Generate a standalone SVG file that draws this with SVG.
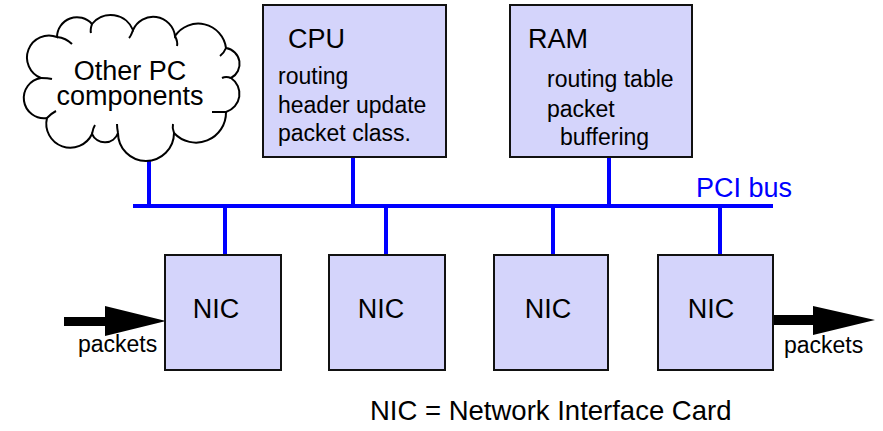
<svg xmlns="http://www.w3.org/2000/svg" width="883" height="431" viewBox="0 0 883 431">
<style>
.box{fill:#d4d4fb;stroke:#111;stroke-width:2}
.bus{stroke:#0000ff;stroke-width:4;fill:none}
.t{font-family:"Liberation Sans",Arial,sans-serif;fill:#000}
.big{font-size:27px}
.sm{font-size:23px}
.cloud{fill:#fff;stroke:#000;stroke-width:2}
.hook{fill:none;stroke:#000;stroke-width:2}
</style>
<rect width="883" height="431" fill="#fff"/>
<g id="connectors">
<line class="bus" x1="133" y1="206" x2="773" y2="206"/>
<line class="bus" x1="149" y1="160" x2="149" y2="208"/>
<line class="bus" x1="353" y1="157" x2="353" y2="206"/>
<line class="bus" x1="609" y1="157" x2="609" y2="206"/>
<line class="bus" x1="225" y1="206" x2="225" y2="255"/>
<line class="bus" x1="386" y1="206" x2="386" y2="255"/>
<line class="bus" x1="553" y1="206" x2="553" y2="255"/>
<line class="bus" x1="720" y1="206" x2="720" y2="255"/>
<polygon points="64,317 105,317 105,306 166,321 105,336 105,326 64,326" fill="#000"/>
<polygon points="773,315 813,315 813,306 875,320 813,335 813,325 773,325" fill="#000"/>
</g>
<g id="pci-label"><text class="t" x="696" y="197" font-size="27" style="fill:#0000ff">PCI bus</text></g>
<g id="cloud">
<path class="cloud" d="M57,37 A20 20 0 0 1 92,24 A24 24 0 0 1 133,30 A22 22 0 0 1 175,36 A28 28 0 0 1 226,48 A16 16 0 0 1 231,78 A19 19 0 0 1 226,112 A30 30 0 0 1 174,133 A28 28 0 0 1 118,133 A14 14 0 0 1 92,134 A24 24 0 0 1 47,118 A20 20 0 0 1 41,78 A22 22 0 0 1 57,37 Z"/>
<path class="hook" d="M57,37 Q66,38 72,44"/>
<path class="hook" d="M92,24 Q90,30 91,33"/>
<path class="hook" d="M133,30 Q131,36 129,38"/>
<path class="hook" d="M175,36 Q178,42 177,46"/>
<path class="hook" d="M226,48 Q224,53 220,56"/>
<path class="hook" d="M231,78 Q226,76 222,78"/>
<path class="hook" d="M226,112 Q222,112 212,112"/>
<path class="hook" d="M174,133 Q172,128 173,124"/>
<path class="hook" d="M118,133 Q117,128 117,124"/>
<path class="hook" d="M92,134 Q93,128 95,125"/>
<path class="hook" d="M47,118 Q52,113 56,111"/>
<path class="hook" d="M41,78 Q48,78 52,79"/>
<text class="t big" x="130" y="80" text-anchor="middle">Other PC</text>
<text class="t big" x="130" y="105" text-anchor="middle">components</text>
</g>
<g id="cpu">
<rect class="box" x="263" y="5" width="183" height="152"/>
<text class="t big" x="288" y="48">CPU</text>
<text class="t sm" x="278" y="84">routing</text>
<text class="t sm" x="278" y="113">header update</text>
<text class="t sm" x="278" y="141">packet class.</text>
</g>
<g id="ram">
<rect class="box" x="510" y="5" width="182" height="152"/>
<text class="t big" x="528" y="48">RAM</text>
<text class="t sm" x="547" y="87">routing table</text>
<text class="t sm" x="547" y="117">packet</text>
<text class="t sm" x="560" y="145">buffering</text>
</g>
<g id="nic1">
<rect class="box" x="165" y="255" width="116" height="115"/>
<text class="t big" x="216" y="318" text-anchor="middle">NIC</text>
</g>
<g id="nic2">
<rect class="box" x="329" y="255" width="116" height="115"/>
<text class="t big" x="381" y="318" text-anchor="middle">NIC</text>
</g>
<g id="nic3">
<rect class="box" x="494" y="255" width="114" height="115"/>
<text class="t big" x="548" y="318" text-anchor="middle">NIC</text>
</g>
<g id="nic4">
<rect class="box" x="658" y="255" width="115" height="115"/>
<text class="t big" x="711" y="318" text-anchor="middle">NIC</text>
</g>
<g id="labels">
<text class="t sm" x="78" y="352">packets</text>
<text class="t sm" x="784" y="353">packets</text>
<text class="t" x="370" y="420" font-size="27.5">NIC = Network Interface Card</text>
</g>
</svg>
